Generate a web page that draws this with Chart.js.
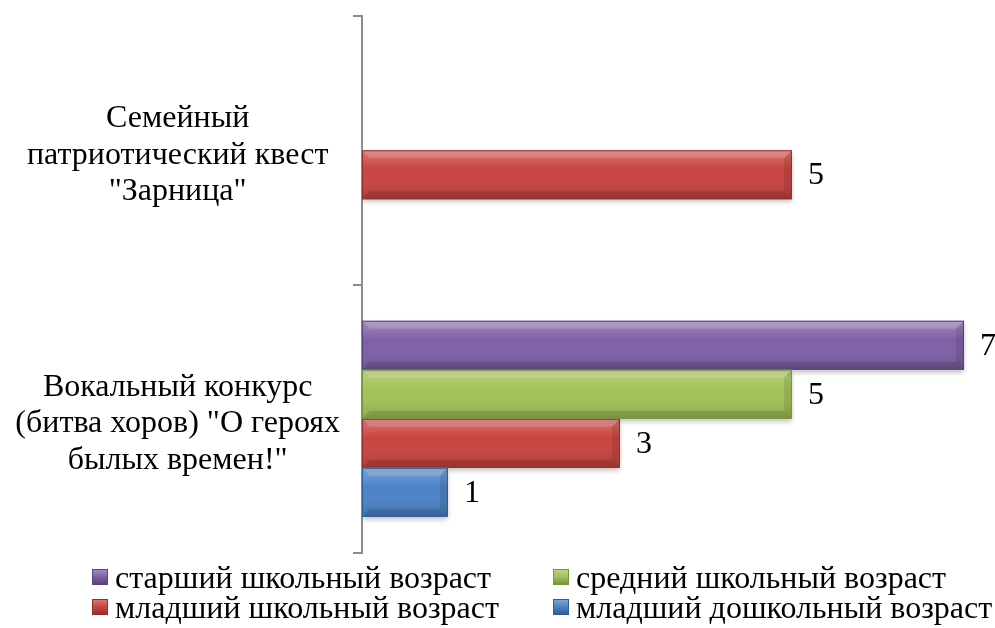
<!DOCTYPE html>
<html lang="ru">
<head>
<meta charset="utf-8">
<title>Участие по возрастам</title>
<script src="https://cdn.jsdelivr.net/npm/chart.js@4.4.1/dist/chart.umd.min.js"></script>
<style>
  html, body { margin: 0; padding: 0; background: #fff; }
  #wrap { position: relative; width: 995px; height: 628px; }
  #legend {
    position: absolute; left: 92px; top: 562px;
    display: grid; grid-template-columns: 461px auto;
    font: 32px "Liberation Serif", "Times New Roman", serif;
    line-height: 30px; color: #000;
  }
  .item { display: flex; align-items: center; white-space: nowrap; }
  .box { width: 16px; height: 16px; margin-right: 7px; box-sizing: border-box; }
</style>
</head>
<body>
<div id="wrap">
  <canvas id="chart"></canvas>
  <div id="legend"></div>
</div>
<script>
const categories = [
  ["Семейный", "патриотический квест", "\"Зарница\""],
  ["Вокальный конкурс", "(битва хоров) \"О героях", "былых времен!\""],
];
const seriesNames = [
  "старший школьный возраст",
  "средний школьный возраст",
  "младший школьный возраст",
  "младший дошкольный возраст",
];
const starshiyShkolny = [null, 7];
const sredniyShkolny = [null, 5];
const mladshiyShkolny = [5, 3];
const mladshiyDoshkolny = [null, 1];

const colors = ["#7E5FA6", "#A2C257", "#C8443F", "#4A82C8"];
const borders = ["#5A437A", "#7A953A", "#93302D", "#2F5E96"];
const values = [starshiyShkolny, sredniyShkolny, mladshiyShkolny, mladshiyDoshkolny];

const serif = '"Liberation Serif", "Times New Roman", serif';

// bevel look on top of every bar, like the Excel 3D preset
const bevelPlugin = {
  id: "bevel",
  beforeDatasetsDraw(chart) {
    const ctx = chart.ctx;
    ctx.save();
    ctx.shadowColor = "rgba(0,0,0,0.25)";
    ctx.shadowBlur = 5;
    ctx.shadowOffsetY = 3;
  },
  afterDatasetsDraw(chart) {
    const ctx = chart.ctx;
    ctx.restore();
    chart.data.datasets.forEach((ds, di) => {
      const meta = chart.getDatasetMeta(di);
      meta.data.forEach((bar, i) => {
        if (ds.data[i] == null) return;
        const x0 = bar.base, x1 = bar.x;
        const y0 = bar.y - bar.height / 2, y1 = bar.y + bar.height / 2;
        const b = 8;
        ctx.save();
        const g = ctx.createLinearGradient(0, y0, 0, y1);
        g.addColorStop(0, "rgba(255,255,255,0.28)");
        g.addColorStop(0.4, "rgba(255,255,255,0.0)");
        g.addColorStop(1, "rgba(0,0,0,0.14)");
        ctx.fillStyle = g;
        ctx.fillRect(x0, y0, x1 - x0, y1 - y0);
        // top edge
        ctx.fillStyle = "rgba(255,255,255,0.16)";
        ctx.beginPath();
        ctx.moveTo(x0, y0); ctx.lineTo(x1, y0); ctx.lineTo(x1 - b, y0 + b); ctx.lineTo(x0 + b, y0 + b);
        ctx.fill();
        // bottom edge
        ctx.fillStyle = "rgba(0,0,0,0.12)";
        ctx.beginPath();
        ctx.moveTo(x0, y1); ctx.lineTo(x1, y1); ctx.lineTo(x1 - b, y1 - b); ctx.lineTo(x0 + b, y1 - b);
        ctx.fill();
        // right edge
        ctx.fillStyle = "rgba(0,0,0,0.10)";
        ctx.beginPath();
        ctx.moveTo(x1, y0); ctx.lineTo(x1 - b, y0 + b); ctx.lineTo(x1 - b, y1 - b); ctx.lineTo(x1, y1);
        ctx.fill();
        ctx.strokeStyle = borders[di];
        ctx.lineWidth = 1;
        ctx.strokeRect(x0 + 0.5, y0 + 0.5, x1 - x0 - 1, y1 - y0 - 1);
        ctx.restore();
      });
    });
    // value labels
    ctx.save();
    ctx.font = "32px " + serif;
    ctx.fillStyle = "#000";
    ctx.textBaseline = "middle";
    ctx.textAlign = "left";
    chart.data.datasets.forEach((ds, di) => {
      chart.getDatasetMeta(di).data.forEach((bar, i) => {
        if (ds.data[i] == null) return;
        ctx.fillText(String(ds.data[i]), bar.x + 16, bar.y + 1);
      });
    });
    ctx.restore();
  },
};

new Chart(document.getElementById("chart"), {
  type: "bar",
  data: {
    labels: categories,
    datasets: seriesNames.map((name, i) => ({
      label: name,
      data: values[i],
      backgroundColor: colors[i],
      borderWidth: 0,
      barPercentage: 1,
      categoryPercentage: 0.73,
    })),
  },
  options: {
    indexAxis: "y",
    responsive: true,
    maintainAspectRatio: false,
    animation: false,
    layout: { padding: { top: 16, right: 0, bottom: 75, left: 0 } },
    scales: {
      x: { display: false, min: 0, max: 7.36 },
      y: {
        afterFit: (scale) => {
          scale.width = 362;
          scale.paddingTop = 0;
          scale.paddingBottom = 0;
        },
        border: { color: "#8C8C8C", width: 2 },
        grid: { drawOnChartArea: false, color: "#8C8C8C", lineWidth: 2, tickLength: 9, offset: true },
        ticks: {
          crossAlign: "center",
          padding: 13,
          labelOffset: 5,
          color: "#000",
          font: { family: serif, size: 32, lineHeight: 1.14 },
        },
      },
    },
    plugins: {
      legend: { display: false },
      tooltip: { enabled: false },
    },
  },
  plugins: [bevelPlugin],
});

// legend in two columns, same order as Excel
const legend = document.getElementById("legend");
seriesNames.forEach((name, i) => {
  const item = document.createElement("div");
  item.className = "item";
  item.innerHTML = `<span class="box" style="background:linear-gradient(${colors[i]}bb, ${colors[i]} 50%, ${borders[i]});border:1px solid ${borders[i]}"></span><span>${name}</span>`;
  legend.appendChild(item);
});
</script>
</body>
</html>
